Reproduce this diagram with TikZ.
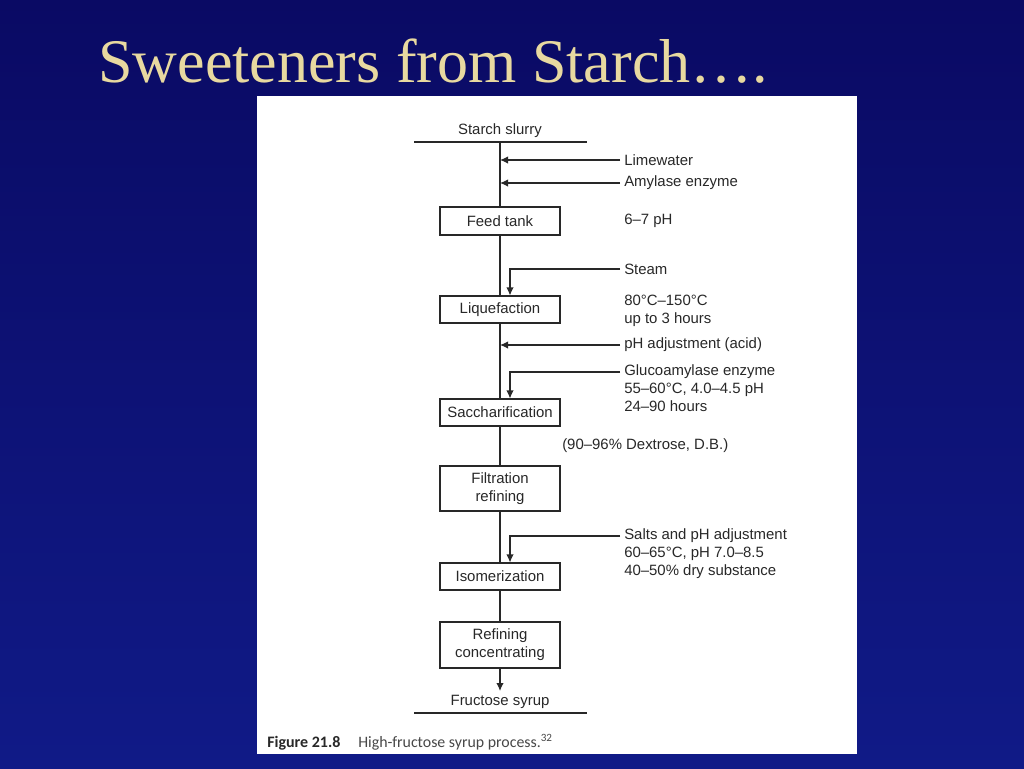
\documentclass[tikz,border=0pt]{standalone}
\usepackage{fontspec}
\setmainfont{Liberation Sans}
\newfontfamily\titlefont{Liberation Serif}
\newfontfamily\capfont{Carlito}
\usetikzlibrary{arrows.meta}
\newcommand\diagfont{\fontsize{11.2}{13.5}\selectfont}
\definecolor{bgtop}{RGB}{10,10,100}
\definecolor{bgbot}{RGB}{16,26,135}
\definecolor{titlecol}{RGB}{232,217,160}
\definecolor{ink}{RGB}{40,40,40}
\begin{document}
\begin{tikzpicture}[x=0.75pt,y=-0.75pt,
  box/.style={draw=ink, line width=0.8pt, minimum width=90pt, inner sep=0pt, align=center, font=\diagfont, text=ink},
  lbl/.style={inner sep=0pt, anchor=west, align=left, font=\diagfont, text=ink},
  ln/.style={draw=ink, line width=0.8pt},
  arr/.style={ln, -{Latex[length=6pt,width=5.5pt]}}]
\useasboundingbox (0,0) rectangle (1024,768);
\fill[top color=bgtop, bottom color=bgbot] (0,0) rectangle (1024,768);
\node[anchor=base west, inner sep=0pt, text=titlecol, font=\titlefont\fontsize{46.5}{50}\selectfont] (title) at (98,82) {Sweeteners from Starch….};
\fill[white] (257,96) rectangle (857,754);
% top
\node[lbl, anchor=center] (sslbl) at (500,131) {Starch slurry};
\coordinate (ssl) at (414,142);
\coordinate (ssr) at (587,142);
\draw[ln] (ssl) -- (ssr);
\coordinate (ss) at (500,142);
% boxes
\node[box, minimum height=21pt] (feed) at (500,221) {Feed tank};
\node[box, minimum height=20.25pt] (liq) at (500,309.5) {Liquefaction};
\node[box, minimum height=20.25pt] (sac) at (500,412.5) {Saccharification};
\node[box, minimum height=33.75pt] (fil) at (500,488.5) {Filtration\\refining};
\node[box, minimum height=20.25pt] (iso) at (500,576.5) {Isomerization};
\node[box, minimum height=34.5pt] (ref) at (500,645) {Refining\\concentrating};
% main flow
\draw[ln] (ss) -- (feed.north);
\draw[ln] (feed.south) -- (liq.north);
\draw[ln] (liq.south) -- (sac.north);
\draw[ln] (sac.south) -- (fil.north);
\draw[ln] (fil.south) -- (iso.north);
\draw[ln] (iso.south) -- (ref.north);
\coordinate (fsend) at (500,691);
\draw[arr] (ref.south) -- (fsend);
\node[lbl, anchor=center] (fslbl) at (500,702) {Fructose syrup};
\coordinate (fsl) at (414,713);
\coordinate (fsr) at (587,713);
\draw[ln] (fsl) -- (fsr);
% side inputs
\coordinate (lw) at (620,160);
\draw[arr] (lw) -- (lw -| ss);
\node[lbl] (lwlbl) at (624,160) {Limewater};
\coordinate (am) at (620,183);
\draw[arr] (am) -- (am -| ss);
\node[lbl] (amlbl) at (624,183) {Amylase enzyme};
\node[lbl] (phlbl) at (624,221) {6–7 pH};
\coordinate (st) at (620,269);
\draw[arr] (st) -| ([xshift=7.5pt]liq.north);
\node[lbl] (stlbl) at (624,269) {Steam};
\node[lbl] (liqlbl) at (624,311) {80°C–150°C\\up to 3 hours};
\coordinate (pa) at (620,345);
\draw[arr] (pa) -- (pa -| ss);
\node[lbl] (palbl) at (624,345) {pH adjustment (acid)};
\coordinate (gl) at (620,372);
\draw[arr] (gl) -| ([xshift=7.5pt]sac.north);
\node[lbl, anchor=north west] (gllbl) at (624,364) {Glucoamylase enzyme\\55–60°C, 4.0–4.5 pH\\24–90 hours};
\node[lbl] (dxlbl) at (562,446) {(90–96\% Dextrose, D.B.)};
\coordinate (sa) at (620,536);
\draw[arr] (sa) -| ([xshift=7.5pt]iso.north);
\node[lbl, anchor=north west] (salbl) at (624,528) {Salts and pH adjustment\\60–65°C, pH 7.0–8.5\\40–50\% dry substance};
% caption
\node[anchor=base west, inner sep=0pt, font=\capfont\bfseries\fontsize{12}{14}\selectfont, text=ink] (figno) at (267,747) {Figure 21.8};
\node[anchor=base west, inner sep=0pt, font=\capfont\fontsize{11.9}{14}\selectfont, text=ink!85] (figcap) at (358,747) {High-fructose syrup process.\textsuperscript{32}};
\end{tikzpicture}
\end{document}
